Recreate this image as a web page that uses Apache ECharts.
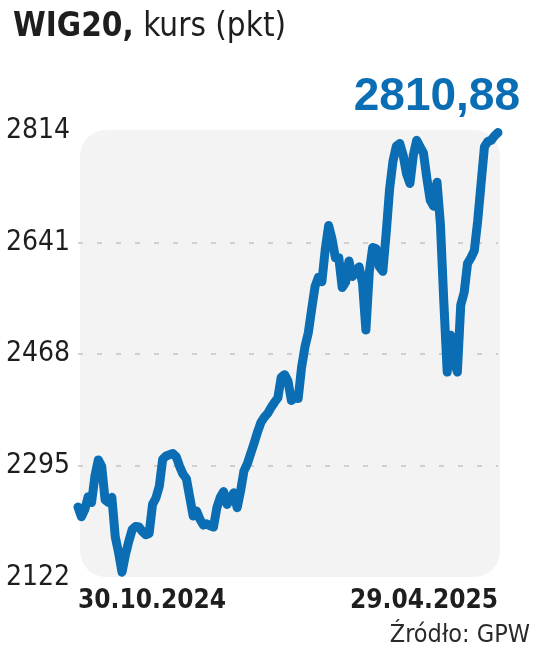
<!DOCTYPE html>
<html>
<head>
<meta charset="utf-8">
<script src="https://cdn.jsdelivr.net/npm/echarts@6/dist/echarts.min.js"></script>
<style>
html,body{margin:0;padding:0;background:#fff;}
#chart{width:536px;height:659px;}
</style>
</head>
<body>
<div id="chart"></div>
<script>
// WIG20 close values (pkt), 30.10.2024 – 29.04.2025
const wigValues = [
  2231, 2216, 2227, 2247, 2238, 2279, 2304, 2294, 2242, 2238,
  2246, 2185, 2160, 2130, 2157, 2178, 2196, 2201, 2200, 2193,
  2188, 2190, 2235, 2245, 2263, 2305, 2310, 2312, 2314, 2309,
  2294, 2282, 2275, 2246, 2217, 2225, 2212, 2203, 2205, 2202,
  2200, 2230, 2246, 2255, 2235, 2244, 2253, 2230, 2256, 2287,
  2298, 2314, 2330, 2347, 2362, 2370, 2376, 2385, 2393, 2400,
  2432, 2436, 2426, 2396, 2400, 2399, 2447, 2479, 2501, 2538,
  2573, 2587, 2580, 2630, 2667, 2646, 2617, 2617, 2571, 2579,
  2612, 2588, 2595, 2603, 2578, 2505, 2595, 2633, 2631, 2603,
  2596, 2656, 2724, 2767, 2790, 2794, 2776, 2747, 2732, 2776,
  2799, 2789, 2779, 2740, 2706, 2697, 2734, 2669, 2549, 2440,
  2497, 2459, 2440, 2544, 2563, 2608, 2617, 2628, 2674, 2732,
  2789, 2797, 2799, 2806, 2810.88
];
// session index used as category
const sessions = wigValues.map((_, i) => String(i));
const xTickLabels = ['30.10.2024', '29.04.2025'];
const yTicks = [2122, 2295, 2468, 2641, 2814];
const lastValueText = '2810,88';
const titleBold = 'WIG20,';
const titleRest = ' kurs (pkt)';
const sourceText = 'Źródło: GPW';

const BLUE = '#0b6db3';
const NARROW = '"Liberation Sans Narrow", "DejaVu Sans Condensed", "Roboto", sans-serif';

const chart = echarts.init(document.getElementById('chart'), null, {renderer: 'canvas'});
const lastIdx = sessions.length - 1;

chart.setOption({
  animation: false,
  backgroundColor: '#ffffff',
  title: {
    left: 8, top: 6,
    text: '{b|' + titleBold + '}{n|' + titleRest + '}',
    textStyle: {
      rich: {
        b: {fontFamily: NARROW, fontWeight: 'bold', fontSize: 33, color: '#1e1e1e'},
        n: {fontFamily: NARROW, fontWeight: 'normal', fontSize: 33, color: '#1e1e1e'}
      }
    }
  },
  graphic: [
    {
      type: 'rect', z: -10, silent: true,
      shape: {x: 80, y: 130, width: 420, height: 447, r: 26},
      style: {fill: '#f3f3f3'}
    },
    {
      type: 'text', right: 16, top: 74, silent: true,
      style: {text: lastValueText, fill: BLUE, font: 'bold 46px "Liberation Sans", "DejaVu Sans", sans-serif'}
    },
    {
      type: 'text', right: 6, top: 623, silent: true,
      style: {text: sourceText, fill: '#2a2a2a', font: '25px ' + NARROW}
    }
  ],
  grid: {left: 78, right: 38, top: 130.6, bottom: 81.6, containLabel: false, outerBoundsMode: 'none'},
  xAxis: {
    type: 'category',
    data: sessions,
    boundaryGap: false,
    axisLine: {show: false},
    axisTick: {show: false},
    splitLine: {show: false},
    axisLabel: {
      interval: (i) => i === 0 || i === lastIdx,
      formatter: (v, i) => i === 0 ? xTickLabels[0] : xTickLabels[1],
      alignMinLabel: 'left',
      alignMaxLabel: 'right',
      margin: 11,
      color: '#1e1e1e',
      fontFamily: NARROW,
      fontWeight: 'bold',
      fontSize: 26
    }
  },
  yAxis: {
    type: 'value',
    min: yTicks[0],
    max: yTicks[yTicks.length - 1],
    interval: yTicks[1] - yTicks[0],
    axisLine: {show: false},
    axisTick: {show: false},
    axisLabel: {
      margin: 8,
      color: '#1e1e1e',
      fontFamily: NARROW,
      fontSize: 28,
      formatter: (v) => String(Math.round(v))
    },
    splitLine: {
      show: true,
      lineStyle: {
        color: ['rgba(0,0,0,0)', '#c4c4c4', '#c4c4c4', '#c4c4c4', 'rgba(0,0,0,0)'],
        type: [5, 14],
        width: 1.5
      }
    }
  },
  series: [{
    type: 'line',
    data: wigValues,
    showSymbol: false,
    smooth: false,
    lineStyle: {color: BLUE, width: 9, cap: 'round', join: 'round'},
    z: 5
  }]
});
</script>
</body>
</html>
